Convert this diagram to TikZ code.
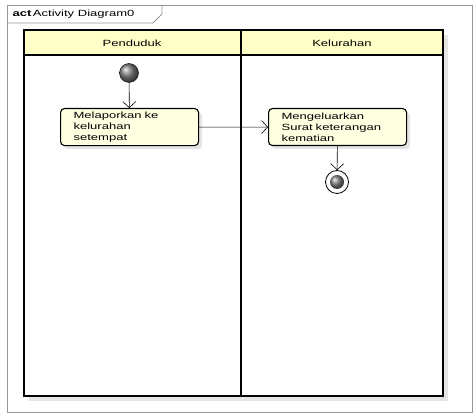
\documentclass[tikz,border=0pt]{standalone}
\usepackage{fontspec}
\setmainfont{Liberation Sans}[FakeStretch=1.45]
\usepackage{tikz}
\usetikzlibrary{arrows,calc,shapes}
\usetikzlibrary{arrows.meta}
\usepackage{xcolor}
\definecolor{lanefill}{RGB}{255,255,200}
\definecolor{actfill}{RGB}{255,255,225}
\definecolor{framegray}{RGB}{150,150,150}

\begin{document}
\begin{tikzpicture}
        [   x = 1pt
        ,   y = -1pt
        ,   font = \fontsize{9}{11}\selectfont
        ,   lane/.style =
            {   draw
            ,   line width = 1.3pt
            }
        ,   action/.style =
            {   draw
            ,   line width = 1.1pt
            ,   rounded corners = 4pt
            ,   fill = actfill
            ,   minimum width = 138pt
            ,   minimum height = 37pt
            ,   text width = 112pt
            ,   inner xsep = 13pt
            ,   align = left
            ,   anchor = north west
            }
        ,   initial/.style =
            {   circle
            ,   draw
            ,   minimum size = 19pt
            ,   inner sep = 0pt
            ,   ball color = gray
            }
        ,   final/.style =
            {   circle
            ,   draw
            ,   thick
            ,   minimum size = 23pt
            ,   inner sep = 0pt
            ,   fill = white
            }
        ,   flow/.style =
            {   -{Straight Barb[length = 6pt, width = 13pt]}
            ,   semithick
            }
        ]
        \useasboundingbox (0,0) rectangle (473,414);
        % frame
        \draw [framegray, thick] (7,5) rectangle (472,412);
        \draw [framegray, thick] (7,23) -- (153,23) -- (162,14) -- (162,5);
        \node [anchor = west] (title) at (9,14) {\textbf{act}\,Activity Diagram0};
        % swimlanes
        \fill [gray!20] (29,35) rectangle (448,401);
        \fill [white] (24,55) rectangle (443,396);
        \fill [lanefill] (24,30) rectangle (443,55);
        \draw [lane] (24,30) rectangle (443,396);
        \draw [lane] (24,55) -- (443,55);
        \draw [lane] (241,30) -- (241,396);
        \node (penduduk) at (132,43) {Penduduk};
        \node (kelurahan) at (342,43) {Kelurahan};
        % activities
        \fill [gray!20, rounded corners = 4pt] (64,112) rectangle (202,149);
        \fill [gray!20, rounded corners = 4pt] (272,112) rectangle (410,149);
        \node [initial] (start) at (129,73) {};
        \node [action] (lapor) at (60,108) {Melaporkan ke\\kelurahan\\setempat};
        \node [action] (keluar) at (268,108) {Mengeluarkan\\Surat keterangan\\kematian};
        \node [final] (end) at (337,182) {};
        \node [circle, minimum size = 14pt, inner sep = 0pt, ball color = gray] (endin) at (end) {};
        \draw [flow] (start) -- (lapor);
        \draw [flow] (lapor) -- (keluar);
        \draw [flow] (keluar) -- (end);
    \end{tikzpicture}
\end{document}
